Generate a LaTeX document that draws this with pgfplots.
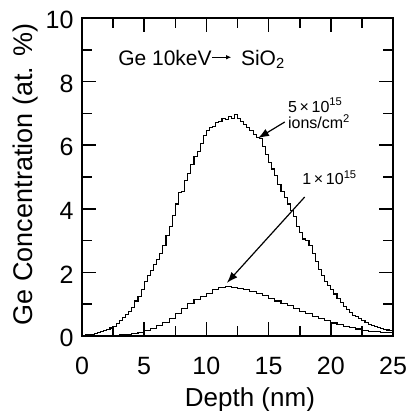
\documentclass[border=0pt]{standalone}
\usepackage{pgfplots}
\pgfplotsset{compat=1.18}
\usetikzlibrary{calc,arrows.meta}
\usepackage{fontspec}
\setmainfont{Liberation Sans}
\begin{document}
\begin{tikzpicture}
\begin{axis}[
  name=ax,
  scale only axis, width=311pt, height=318pt,
  xmin=0, xmax=25, ymin=0, ymax=10,
  xtick={0,5,...,25}, ytick={0,2,...,10},
  minor x tick num=1, minor y tick num=1,
  tick align=inside, tick pos=both,
  major tick length=14pt, minor tick length=10pt,
  every tick/.style={line width=1.6pt, black},
  axis line style={line width=2pt},
  /pgf/number format/assume math mode=true,
  ticklabel style={font=\fontsize{25}{25}\selectfont},
  xticklabel style={yshift=-18pt},
  yticklabel style={xshift=-5pt, yshift=-2pt},
  xlabel={Depth (nm)}, ylabel={Ge Concentration (at. \%)},
  xlabel style={font=\fontsize{26}{26}\selectfont, at={(ticklabel cs:0.54)}, yshift=-6pt},
  ylabel style={font=\fontsize{27}{27}\selectfont, at={(ticklabel cs:0.508)}, yshift=1pt},
  clip=false,
]
\addplot[const plot, line width=1.1pt] coordinates {
(0,0.02)(0.25,0.03)(0.5,0.04)(0.75,0.06)(1.0,0.08)(1.25,0.1)(1.5,0.13)(1.75,0.16)
(2.0,0.2)(2.25,0.25)(2.5,0.3)(2.75,0.4)(3.0,0.5)(3.25,0.58)(3.5,0.68)(3.75,0.78)
(4.0,0.9)(4.25,1.1)(4.5,1.25)(4.75,1.45)(5.0,1.7)(5.25,1.9)(5.5,2.05)(5.75,2.25)
(6.0,2.4)(6.25,2.6)(6.5,2.85)(6.75,3.15)(7.0,3.45)(7.25,3.8)(7.5,4.15)(7.75,4.5)
(8.0,4.55)(8.25,4.9)(8.5,5.1)(8.75,5.4)(9.0,5.65)(9.25,5.8)(9.5,6.05)(9.75,6.3)
(10.0,6.45)(10.25,6.55)(10.5,6.6)(10.75,6.7)(11.0,6.75)(11.25,6.85)(11.5,6.8)(11.75,6.9)
(12.0,6.85)(12.25,6.97)(12.5,6.85)(12.75,6.75)(13.0,6.65)(13.25,6.55)(13.5,6.45)(13.75,6.35)
(14.0,6.25)(14.25,6.2)(14.5,5.95)(14.75,5.7)(15.0,5.45)(15.25,5.25)(15.5,5.05)(15.75,4.75)
(16.0,4.55)(16.25,4.35)(16.5,4.15)(16.75,3.95)(17.0,3.75)(17.25,3.45)(17.5,3.25)(17.75,3.05)
(18.0,3.0)(18.25,2.85)(18.5,2.6)(18.75,2.35)(19.0,2.1)(19.25,1.9)(19.5,1.72)(19.75,1.58)
(20.0,1.45)(20.25,1.32)(20.5,1.18)(20.75,1.05)(21.0,0.93)(21.25,0.83)(21.5,0.75)(21.75,0.65)
(22.0,0.62)(22.25,0.55)(22.5,0.48)(22.75,0.42)(23.0,0.37)(23.25,0.33)(23.5,0.29)(23.75,0.26)
(24.0,0.23)(24.25,0.21)(24.5,0.19)(24.75,0.16)(25,0.14)
};
\addplot[const plot, line width=1.1pt] coordinates {
(0,0.01)(0.5,0.01)(1,0.01)(1.5,0.01)(2,0.01)(2.5,0.02)(3,0.03)(3.5,0.05)(4,0.08)
(4.5,0.12)(5,0.17)(5.5,0.24)(6,0.33)(6.5,0.43)(7,0.56)(7.5,0.7)(8,0.86)(8.5,1.02)
(9,1.14)(9.5,1.25)(10,1.35)(10.5,1.45)(11,1.52)(11.5,1.55)(12,1.52)(12.5,1.5)
(13,1.45)(13.5,1.4)(14,1.33)(14.5,1.26)(15,1.18)(15.5,1.1)(16,1.02)(16.5,0.95)
(17,0.87)(17.5,0.78)(18,0.7)(18.5,0.62)(19,0.55)(19.5,0.48)(20,0.41)(20.5,0.35)
(21,0.3)(21.5,0.26)(22,0.22)(22.5,0.18)(23,0.15)(23.5,0.13)(24,0.11)(24.5,0.1)(25,0.09)
};
\node[anchor=west, font=\fontsize{21}{21}\selectfont, inner sep=0pt] at (axis cs:2.9,8.7) {Ge 10keV\raisebox{0.28em}{\tikz\draw[-{Latex[length=5pt,width=4.5pt]},line width=0.9pt] (0,0)--(19pt,0);}\hspace{0.45em}SiO\textsubscript{2}};
\node[anchor=west, font=\fontsize{16}{16}\selectfont, inner sep=0pt] at (axis cs:16.55,7.26) {5\,×\,10\textsuperscript{15}};
\node[anchor=west, font=\fontsize{16}{16}\selectfont, inner sep=0pt] at (axis cs:16.55,6.73) {ions/cm\textsuperscript{2}};
\node[anchor=west, font=\fontsize{16}{16}\selectfont, inner sep=0pt] at (axis cs:17.7,4.97) {1\,×\,10\textsuperscript{15}};
\draw[-{Latex[length=11pt,width=8pt]}, line width=1.2pt] (axis cs:16.3,6.73) -- (axis cs:14.15,6.22);
\draw[-{Latex[length=11pt,width=8pt]}, line width=1.2pt] (axis cs:17.9,4.37) -- (axis cs:11.65,1.67);
\end{axis}
\pgfresetboundingbox
\path ($(ax.south west)+(-82pt,-75pt)$) rectangle ($(ax.north east)+(18pt,18pt)$);
\end{tikzpicture}
\end{document}
